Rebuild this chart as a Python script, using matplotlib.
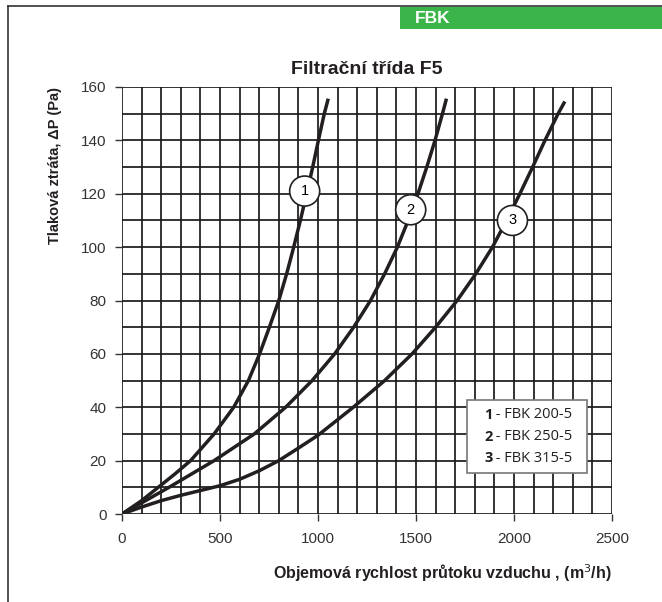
"""Pressure drop chart, filter class F5
"""
import matplotlib
matplotlib.use('Agg')
import matplotlib.pyplot as plt
from matplotlib.patches import Rectangle

# flow (m3/h) and pressure drop (Pa)
flow_1 = [0, 100, 185, 270, 350, 470, 570, 645, 702, 752, 800, 840, 876, 910, 942, 973, 1002, 1032, 1050]
dp_1 = [0, 5, 10, 15, 20, 30, 40, 50, 60, 70, 80, 90, 100, 110, 120, 130, 140, 150, 155]
flow_2 = [0, 120, 240, 470, 675, 835, 970, 1085, 1182, 1268, 1340, 1405, 1460, 1510, 1555, 1597, 1635, 1653]
dp_2 = [0, 5, 10, 20, 30, 40, 50, 60, 70, 80, 90, 100, 110, 120, 130, 140, 150, 155]
flow_3 = [0, 100, 200, 300, 400, 500, 600, 700, 800, 900, 1000, 1180, 1340, 1480, 1600, 1710,
          1805, 1890, 1962, 2030, 2095, 2158, 2225, 2255]
dp_3 = [0, 2.6, 5.0, 7.0, 8.8, 10.6, 13.0, 16.2, 20, 24.7, 29.5, 40, 50, 60, 70, 80,
        90, 100, 110, 120, 130, 140, 150, 154]

curve_ids = ['1', '2', '3']
curve_names = ['FBK 200-5', 'FBK 250-5', 'FBK 315-5']
marker_pos = [(932, 121), (1473, 114), (1992, 110)]

x_ticks = [0, 500, 1000, 1500, 2000, 2500]
y_ticks = [0, 20, 40, 60, 80, 100, 120, 140, 160]

W, H = 662, 602
FONT = ['Liberation Sans', 'DejaVu Sans']
LEG_FONT = ['Open Sans', 'DejaVu Sans']
plt.rcParams['font.family'] = FONT

fig = plt.figure(figsize=(W / 100, H / 100), dpi=100)

# page frame and green header
fig.add_artist(plt.Line2D([8 / W, 1], [1 - 6 / H, 1 - 6 / H], color='#333333', lw=1.2))
fig.add_artist(plt.Line2D([8 / W, 8 / W], [0, 1 - 6 / H], color='#333333', lw=1.2))
fig.add_artist(Rectangle((400 / W, 1 - 29 / H), 262 / W, 22 / H,
                         transform=fig.transFigure, color='#3bb54a', lw=0))
fig.text(415 / W, 1 - 18.5 / H, 'FBK', color='white', fontsize=12.5,
         fontweight='bold', va='center', ha='left')

ax = fig.add_axes([122 / W, 1 - 514 / H, 490 / W, 427 / H])
ax.set_xlim(0, 2500)
ax.set_ylim(0, 160)

for xv in range(0, 2501, 100):
    ax.axvline(xv, color='#1a1a1a', lw=1.25, zorder=1)
for yv in range(0, 161, 10):
    ax.axhline(yv, color='#1a1a1a', lw=1.25, zorder=1)
for sp in ax.spines.values():
    sp.set_visible(False)

ax.set_xticks(x_ticks)
ax.set_yticks(y_ticks)
ax.tick_params(axis='x', length=5, width=1, color='#333333', pad=8,
               labelsize=11, labelcolor='#333333')
ax.tick_params(axis='y', length=5, width=1, color='#333333', pad=6,
               labelsize=11, labelcolor='#333333')

for fl, dp in [(flow_1, dp_1), (flow_2, dp_2), (flow_3, dp_3)]:
    ax.plot(fl, dp, color='#231f20', lw=2.5, solid_joinstyle='round', zorder=3)

for cid, (mx, my) in zip(curve_ids, marker_pos):
    ax.text(mx, my, cid, fontsize=10.5, ha='center', va='center', zorder=5,
            bbox=dict(boxstyle='circle,pad=0.55', fc='white', ec='#231f20', lw=1.2))

# legend box
ax.add_patch(Rectangle((1760, 15.5), 612, 27.3, fc='white', ec='#777777', lw=1.2, zorder=4))
for i, (cid, name) in enumerate(zip(curve_ids, curve_names)):
    yv = 37.2 - i * 8.2
    t = ax.text(1847, yv, cid, fontsize=10.5, fontweight='bold', va='center',
                ha='left', family=LEG_FONT, zorder=5, color='#231f20')
    ax.annotate(' - ' + name, xy=(1, 0.5), xycoords=t, va='center', ha='left',
                fontsize=10.5, family=LEG_FONT, zorder=5, color='#231f20')

ax.set_title('Filtrační třída F5', fontsize=14, fontweight='bold', pad=9, color='#231f20')
ax.set_xlabel('Objemová rychlost průtoku vzduchu , (m$^3$/h)', fontsize=11.5,
              fontweight='bold', loc='right', labelpad=12, color='#231f20')
ax.set_ylabel('Tlaková ztráta, ΔP (Pa)', fontsize=10.5, fontweight='bold',
              loc='top', labelpad=14, color='#231f20')

fig.savefig('out.png', dpi=100)
